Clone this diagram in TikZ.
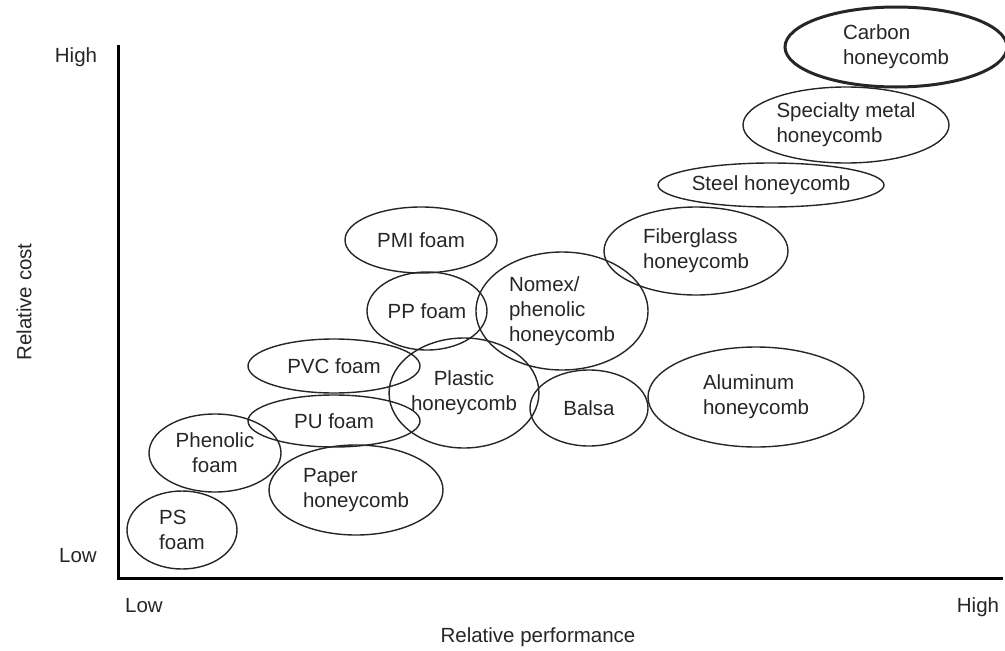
\documentclass[tikz,border=0pt]{standalone}
\usepackage{fontspec}
\setmainfont{Liberation Sans}
\usetikzlibrary{shapes.geometric}
\begin{document}
\begin{tikzpicture}[x=1pt,y=-1pt,
  every node/.style={font=\fontsize{20.5}{25}\selectfont, text=black!85},
  oval/.style={ellipse, draw=black!85, line width=1.4pt, inner sep=0pt, align=left},
  lbl/.style={inner sep=0pt, anchor=base},
  axis/.style={line width=3pt}]
\useasboundingbox (0,0) rectangle (1005,651);
% axes
\coordinate (ytop) at (118,45);
\coordinate (O) at (118,578);
\coordinate (xend) at (1003,578);
\draw[axis] (ytop) -- (O) -- (xend);
% axis labels
\node[lbl] (yhigh) at (76,62) {High};
\node[lbl] (ylow) at (78,562) {Low};
\node[lbl] (xlow) at (144,612) {Low};
\node[lbl] (xhigh) at (978,612) {High};
\node[lbl] (xtitle) at (538,642) {Relative performance};
\node[inner sep=0pt, rotate=90] (ytitle) at (24,302) {Relative cost};
% ellipses
\node[oval, line width=3pt, minimum width=222pt, minimum height=80pt] (carbon) at (896,47) {Carbon\\honeycomb};
\node[oval, minimum width=206pt, minimum height=76pt] (spec) at (846,125) {Specialty metal\\honeycomb};
\node[oval, minimum width=226pt, minimum height=44pt] (steel) at (771,185) {Steel honeycomb};
\node[oval, minimum width=184pt, minimum height=88pt] (fiber) at (696,251) {Fiberglass\\honeycomb};
\node[oval, minimum width=152pt, minimum height=66pt] (pmi) at (421,240) {PMI foam};
\node[oval, minimum width=120pt, minimum height=78pt] (pp) at (427,311) {PP foam};
\node[oval, minimum width=172pt, minimum height=118pt] (nomex) at (562,311) {Nomex/\\phenolic\\honeycomb};
\node[oval, minimum width=172pt, minimum height=54pt] (pvc) at (334,366) {PVC foam};
\node[oval, align=center, minimum width=128pt, minimum height=110pt] (plastic) at (464,393) {Plastic\\honeycomb};
\node[oval, minimum width=118pt, minimum height=76pt] (balsa) at (589,408) {Balsa};
\node[oval, minimum width=216pt, minimum height=100pt] (alu) at (756,397) {Aluminum\\honeycomb};
\node[oval, minimum width=172pt, minimum height=52pt] (pu) at (334,421) {PU foam};
\node[oval, align=center, minimum width=132pt, minimum height=78pt] (phen) at (215,453) {Phenolic\\foam};
\node[oval, minimum width=174pt, minimum height=90pt] (paper) at (356,490) {Paper\\honeycomb};
\node[oval, minimum width=110pt, minimum height=78pt] (ps) at (182,530) {PS\\foam};
\end{tikzpicture}
\end{document}
